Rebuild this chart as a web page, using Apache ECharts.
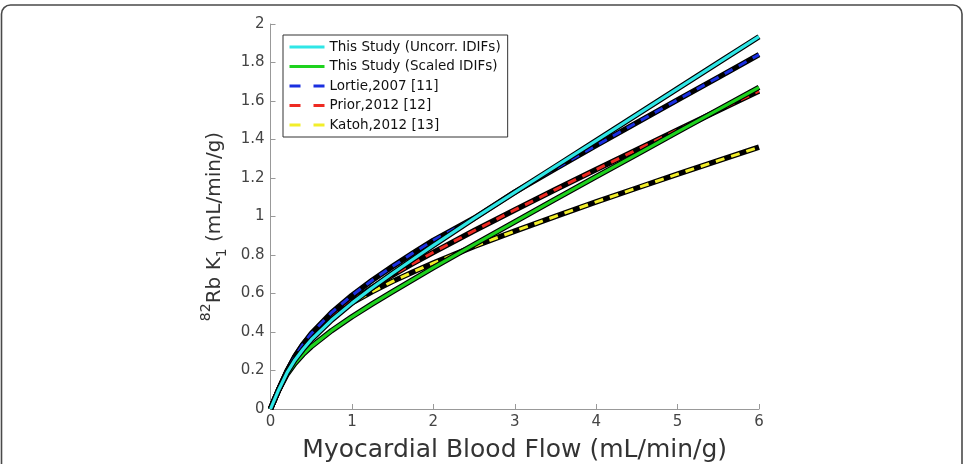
<!DOCTYPE html>
<html>
<head>
<meta charset="utf-8">
<script src="https://cdn.jsdelivr.net/npm/echarts@6/dist/echarts.min.js"></script>
<style>
  html, body { margin: 0; padding: 0; background: #fff; }
  #chart { width: 967px; height: 464px; }
</style>
</head>
<body>
<div id="chart"></div>
<script>
// 心肌血流 (x轴)
const flow = [0, 0.05, 0.1, 0.2, 0.3, 0.4, 0.5, 0.75, 1, 1.25, 1.5, 1.75, 2, 2.5, 3, 3.5, 4, 4.5, 5, 5.5, 6]
// 各曲线 K1 值
const uncorr = [0, 0.05, 0.099, 0.186, 0.255, 0.31, 0.36, 0.462, 0.55, 0.63, 0.705, 0.778, 0.85, 0.99, 1.125, 1.26, 1.394, 1.529, 1.664, 1.799, 1.934]
const scaled = [0, 0.05, 0.098, 0.178, 0.237, 0.284, 0.324, 0.407, 0.479, 0.546, 0.610, 0.672, 0.734, 0.854, 0.972, 1.090, 1.207, 1.323, 1.440, 1.555, 1.671]
const lortie = [0, 0.05, 0.1, 0.193, 0.272, 0.336, 0.391, 0.501, 0.590, 0.669, 0.741, 0.810, 0.876, 0.991, 1.127, 1.249, 1.369, 1.488, 1.606, 1.723, 1.841]
const prior = [0, 0.05, 0.1, 0.192, 0.268, 0.329, 0.380, 0.481, 0.561, 0.631, 0.695, 0.756, 0.814, 0.926, 1.034, 1.140, 1.244, 1.347, 1.449, 1.551, 1.652]
const katoh = [0, 0.05, 0.1, 0.194, 0.272, 0.336, 0.385, 0.48, 0.552, 0.61, 0.663, 0.712, 0.758, 0.845, 0.924, 1.001, 1.076, 1.148, 1.220, 1.290, 1.360]
// 图例名称
const names = ['This Study (Uncorr. IDIFs)', 'This Study (Scaled IDIFs)', 'Lortie,2007 [11]', 'Prior,2012 [12]', 'Katoh,2012 [13]']
const colors = ['#2fe6e6', '#1ed21e', '#1a2fe0', '#ee2a22', '#f2ee2a']

const font = 'DejaVu Sans'
const pairs = (ys) => flow.map((x, i) => [x, ys[i]])

// 黑色底线
const outline = (ys, key, width) => ({
  name: key + '_bg',
  type: 'line',
  data: pairs(ys),
  symbol: 'none',
  silent: true,
  lineStyle: { color: '#000', width: width, join: 'round' }
})
// 彩色线
const colored = (ys, idx, dashed) => ({
  name: names[idx],
  type: 'line',
  data: pairs(ys),
  symbol: 'none',
  itemStyle: { color: colors[idx] },
  lineStyle: {
    color: colors[idx],
    width: dashed ? 3 : 3.2,
    type: dashed ? [9, 7] : 'solid',
    cap: 'butt',
    join: 'round'
  }
})

const chart = echarts.init(document.getElementById('chart'))
const option = {
  animation: false,
  backgroundColor: '#fff',
  textStyle: { fontFamily: font },
  grid: { left: 270.5, right: 208, top: 24, bottom: 55, outerBoundsMode: 'none', containLabel: false },
  graphic: [{
    type: 'rect',
    shape: { x: 1.5, y: 5, width: 960.5, height: 490, r: 9 },
    style: { fill: 'none', stroke: '#4a4a4a', lineWidth: 1.6 },
    silent: true
  }],
  legend: {
    orient: 'vertical',
    left: 283,
    top: 35,
    padding: [5, 7, 5, 5],
    itemWidth: 35,
    itemHeight: 14,
    itemGap: 5.5,
    borderColor: '#333',
    borderWidth: 1,
    textStyle: { fontFamily: font, fontSize: 13.5, color: '#111' },
    data: names.map((n, i) => ({
      name: n,
      itemStyle: { opacity: 0 },
      lineStyle: i < 2 ? { width: 3, type: 'solid' } : { width: 3, type: [11, 13] }
    }))
  },
  xAxis: {
    type: 'value',
    min: 0,
    max: 6,
    interval: 1,
    name: 'Myocardial Blood Flow (mL/min/g)',
    nameLocation: 'middle',
    nameGap: 29,
    nameTextStyle: { fontFamily: font, fontSize: 25, color: '#333' },
    axisLine: { lineStyle: { color: '#999', width: 1 } },
    axisTick: { inside: true, length: 5, lineStyle: { color: '#999' } },
    axisLabel: { fontFamily: font, fontSize: 15, color: '#444', margin: 6 },
    splitLine: { show: false }
  },
  yAxis: {
    type: 'value',
    min: 0,
    max: 2,
    interval: 0.2,
    name: '{sup|82}{n|Rb K}{sub|1}{n| (mL/min/g)}',
    nameLocation: 'middle',
    nameRotate: 90,
    nameGap: 19,
    nameTextStyle: {
      fontFamily: font,
      color: '#333',
      padding: [0, 20, 0, 0],
      rich: {
        n: { fontFamily: font, fontSize: 20, color: '#333', lineHeight: 30 },
        sup: { fontFamily: font, fontSize: 14, color: '#333', lineHeight: 14, verticalAlign: 'top' },
        sub: { fontFamily: font, fontSize: 14, color: '#333', lineHeight: 14, verticalAlign: 'bottom' }
      }
    },
    axisLine: { show: true, lineStyle: { color: '#999', width: 1 } },
    axisTick: { show: true, inside: true, length: 5, lineStyle: { color: '#999' } },
    axisLabel: {
      fontFamily: font,
      fontSize: 15,
      color: '#444',
      margin: 6,
      formatter: (v) => String(Number(v.toFixed(1)))
    },
    splitLine: { show: false }
  },
  series: [
    outline(katoh, 'katoh', 5.5),
    colored(katoh, 4, true),
    outline(prior, 'prior', 5.5),
    colored(prior, 3, true),
    outline(lortie, 'lortie', 5.5),
    colored(lortie, 2, true),
    outline(scaled, 'scaled', 5.5),
    colored(scaled, 1, false),
    outline(uncorr, 'uncorr', 5.5),
    colored(uncorr, 0, false)
  ]
}
chart.setOption(option)
</script>
</body>
</html>
